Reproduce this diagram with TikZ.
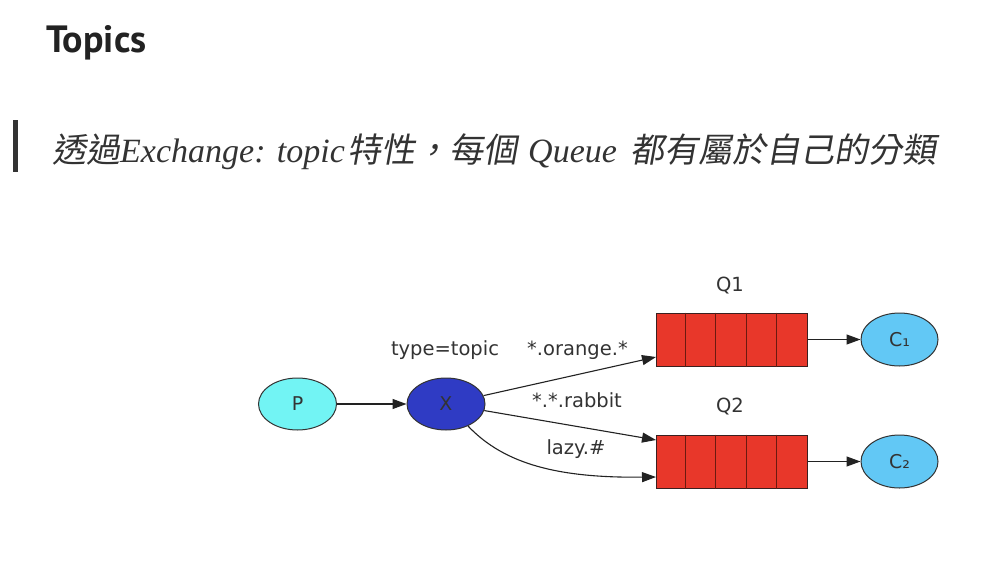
\documentclass[tikz,border=0pt]{standalone}
\usepackage{fontspec}
\usetikzlibrary{shapes.geometric,arrows.meta}
\setmainfont{DejaVu Sans}
\newfontfamily\headfont{PT Sans}
\newfontfamily\cjkfont[FakeSlant=0.18]{Noto Sans CJK TC}
\newfontfamily\serifit{Liberation Serif}
\definecolor{ink}{HTML}{333333}
\definecolor{headink}{HTML}{222222}
\definecolor{pfill}{HTML}{72F4F4}
\definecolor{xfill}{HTML}{2F3BC4}
\definecolor{qfill}{HTML}{E8372A}
\definecolor{qline}{HTML}{6B1A10}
\definecolor{qborder}{HTML}{3A2020}
\definecolor{cfill}{HTML}{62C8F5}
\tikzset{
  oval/.style={ellipse, draw=ink, line width=1pt, minimum width=78pt, minimum height=52pt, inner sep=0pt,
    font=\fontsize{19}{22}\selectfont, text=ink},
  queuebox/.style={rectangle, draw=qborder, line width=1pt, fill=qfill, minimum width=151pt, minimum height=53pt, inner sep=0pt},
  cellline/.style={draw=qline, line width=1pt},
  flow/.style={draw=headink, line width=1.1pt, -{Triangle[length=14pt,width=10pt]}},
  lbl/.style={font=\fontsize{19.5}{22}\selectfont, text=ink, inner sep=0pt, anchor=base},
  subcjk/.style={font=\cjkfont\fontsize{34}{38}\selectfont, text=ink, inner sep=0pt, anchor=base west},
  sublat/.style={font=\serifit\itshape\fontsize{34}{38}\selectfont, text=ink, inner sep=0pt, anchor=base west}
}
\begin{document}
\begin{tikzpicture}[x=1pt,y=-1pt]
\useasboundingbox (0,0) rectangle (992,570);
\fill[white] (0,0) rectangle (992,570);
% heading
\node[anchor=base west, font=\headfont\bfseries\fontsize{38}{40}\selectfont, text=headink, inner sep=0pt] (title) at (46,52) {Topics};
% quote bar and subtitle
\fill[ink] (13,120) rectangle (18,172);
\node[subcjk] (s1) at (52,162) {透過};
\node[sublat] (s2) at (120,162) {Exchange: topic};
\node[subcjk] (s3) at (347,162) {特性，每個};
\node[sublat] (s4) at (528,162) {Queue};
\node[subcjk] (s5) at (630,162) {都有屬於自己的分類};
% diagram nodes
\node[oval, fill=pfill] (P) at (297.5,404) {P};
\node[oval, fill=xfill] (X) at (446,404) {X};
\node[queuebox] (Q1) at (731.5,339.5) {};
\node[queuebox] (Q2) at (731.5,461.5) {};
\foreach \q in {Q1,Q2}{
  \foreach \i in {1,2,3,4}{
    \draw[cellline] ([xshift=\i*30.2pt]\q.north west) -- ([xshift=\i*30.2pt]\q.south west);
  }
}
\node[oval, fill=cfill, minimum width=77pt, minimum height=53pt] (C1) at (899.5,339.5) {C₁};
\node[oval, fill=cfill, minimum width=77pt, minimum height=53pt] (C2) at (899.5,461.5) {C₂};
% labels
\node[lbl] (tt) at (445,355) {type=topic};
\node[lbl] (lo) at (577.5,355) {*.orange.*};
\node[lbl] (lr) at (577,407) {*.*.rabbit};
\node[lbl] (ll) at (576,454) {lazy.\#};
\node[lbl] (q1l) at (730,291) {Q1};
\node[lbl] (q2l) at (730,412) {Q2};
% connector ends
\coordinate (q1in) at (656,357);
\coordinate (q2a) at (656,440);
\coordinate (q2b) at (656,477);
% connectors
\draw[flow] (P) -- (X);
\draw[flow] (X) -- (q1in);
\draw[flow] (X) -- (q2a);
\draw[flow] (X.-45) .. controls (505,465) and (560,478) .. (q2b);
\draw[flow] (Q1) -- (C1);
\draw[flow] (Q2) -- (C2);
\end{tikzpicture}
\end{document}
